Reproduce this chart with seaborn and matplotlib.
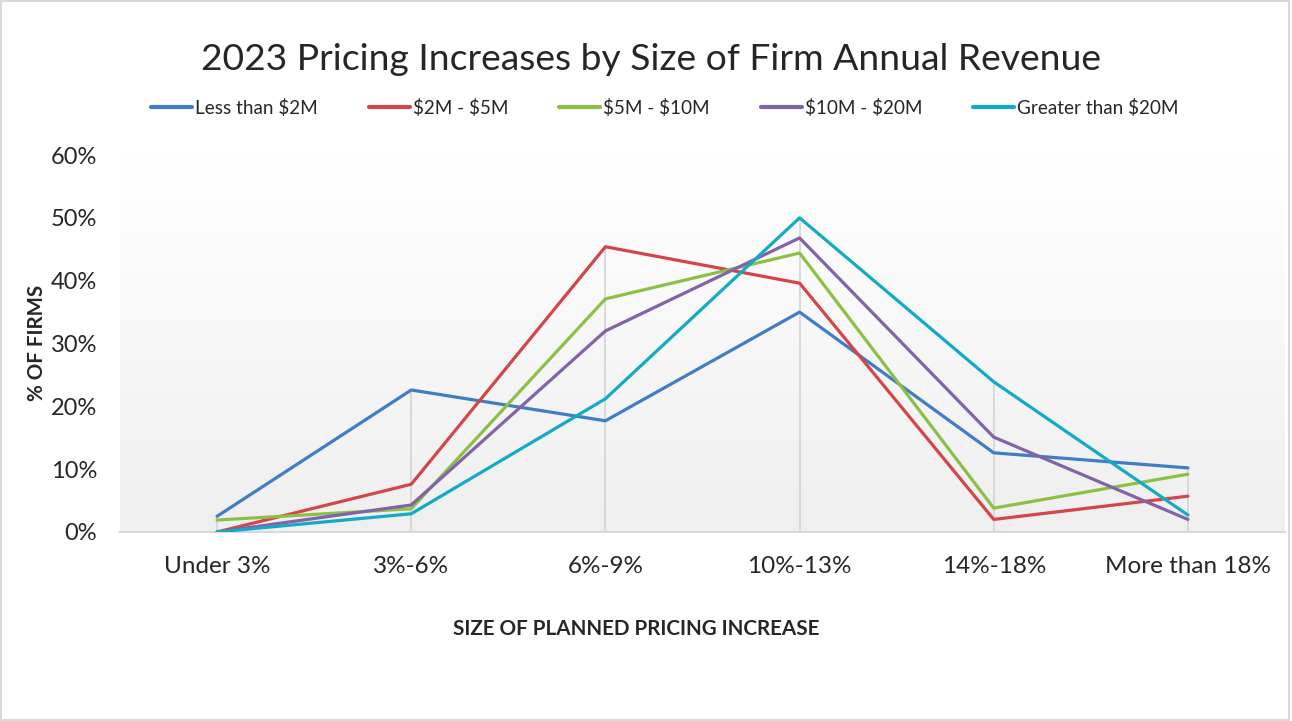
import matplotlib
matplotlib.use("Agg")
import matplotlib.pyplot as plt
import matplotlib.patches as mpatches
import numpy as np
import pandas as pd
import seaborn as sns

# 데이터
categories = ["Under 3%", "3%-6%", "6%-9%", "10%-13%", "14%-18%", "More than 18%"]
series_names = ["Less than $2M", "$2M - $5M", "$5M - $10M", "$10M - $20M", "Greater than $20M"]
less_2m = [2.5, 22.6, 17.7, 35.0, 12.6, 10.2]
m2_5 = [0.0, 7.6, 45.4, 39.6, 2.0, 5.7]
m5_10 = [1.9, 3.7, 37.1, 44.4, 3.8, 9.2]
m10_20 = [0.0, 4.3, 32.0, 46.8, 15.1, 2.0]
over_20m = [0.0, 2.9, 21.2, 50.0, 23.9, 2.7]
colors = ["#3f7dc5", "#d2464a", "#8dbf45", "#8262a8", "#13aac6"]

rows = []
for name, vals in zip(series_names, [less_2m, m2_5, m5_10, m10_20, over_20m]):
    for i, v in enumerate(vals):
        rows.append({"series": name, "x": i, "category": categories[i], "value": v})
df = pd.DataFrame(rows)

sns.set_style("white")
plt.rcParams["font.family"] = ["Lato", "DejaVu Sans"]

fig = plt.figure(figsize=(12.92, 7.21), dpi=100)
ax = fig.add_axes([120 / 1292, 1 - 532 / 721, (1285 - 120) / 1292, (532 - 155) / 721])

# 배경 그라데이션
grad = np.linspace(1.0, 0.0, 256).reshape(-1, 1)
ax.imshow(grad, extent=[0, 1, 0, 1], transform=ax.transAxes, aspect="auto",
          cmap=matplotlib.colors.LinearSegmentedColormap.from_list("g", ["#efefef", "#ffffff"]),
          zorder=0, origin="upper")

# 드롭 라인
maxes = df.groupby("x")["value"].max()
for i, m in maxes.items():
    ax.plot([i, i], [0, m], color="#d4d4d4", lw=1.2, zorder=1)

sns.lineplot(data=df, x="x", y="value", hue="series", palette=colors, linewidth=2.3,
             ax=ax, legend=False, zorder=3)

ax.set_xlim(-0.5, 5.5)
ax.set_ylim(0, 60)
ax.set_xticks(range(len(categories)))
ax.set_xticklabels(categories, fontsize=17.5)
ax.set_yticks(np.arange(0, 61, 10))
ax.set_yticklabels([f"{v}%" for v in range(0, 61, 10)], fontsize=17)
ax.tick_params(axis="x", pad=17, length=0)
ax.tick_params(axis="y", pad=16.5, length=0)
for s in ["top", "right", "left"]:
    ax.spines[s].set_visible(False)
ax.spines["bottom"].set_color("#d9d9d9")
ax.spines["bottom"].set_linewidth(1.5)
ax.set_xlabel("")
ax.set_ylabel("")

fig.text(0.504, 1 - 60 / 721, "2023 Pricing Increases by Size of Firm Annual Revenue",
         ha="center", va="center", fontsize=26.8)
fig.text(37 / 1292, 1 - 343 / 721, "% OF FIRMS", rotation=90, ha="center", va="center",
         fontsize=14.8, fontweight="bold")
fig.text(636 / 1292, 1 - 629 / 721, "SIZE OF PLANNED PRICING INCREASE", ha="center",
         va="center", fontsize=14.9, fontweight="bold")

handles = [plt.Line2D([], [], color=c, lw=3) for c in colors]
labels = [n.replace("$", r"\$") for n in series_names]
fig.legend(handles, labels, loc="center", bbox_to_anchor=(665 / 1292, 1 - 108 / 721),
           ncol=5, frameon=False, fontsize=13.6, handlelength=2.17, handletextpad=0.16,
           columnspacing=2.7)

fig.add_artist(mpatches.Rectangle((0.001, 0.002), 0.997, 0.996, transform=fig.transFigure,
                                  fill=False, edgecolor="#d9d9d9", lw=1.5))

fig.savefig("out.png", dpi=100)
